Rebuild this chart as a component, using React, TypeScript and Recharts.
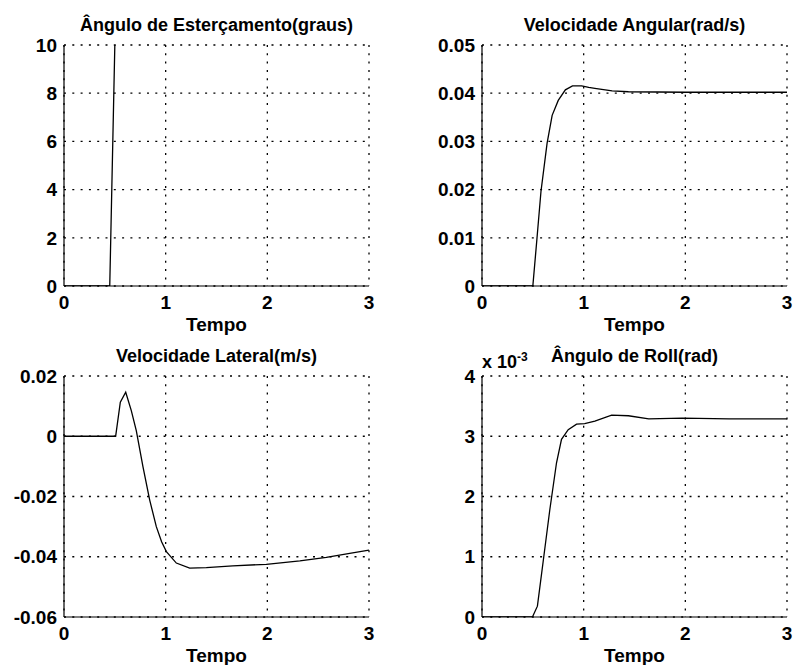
import React from "react";
import { LineChart, Line, XAxis, YAxis, CartesianGrid } from "recharts";

// time axis shared by all four panels
const timeTicks = [0, 1, 2, 3];

// Ângulo de Esterçamento (graus)
const steerTime = [0, 0.45, 0.5];
const steerDeg = [0, 0, 10];
const steerTicks = [0, 2, 4, 6, 8, 10];

// Velocidade Angular (rad/s)
const yawTime = [0, 0.5, 0.54, 0.58, 0.64, 0.69, 0.75, 0.82, 0.89, 0.98, 1.05, 1.11, 1.28, 1.44, 2.0, 3.0];
const yawRate = [0, 0, 0.0097, 0.0196, 0.0296, 0.0354, 0.0385, 0.0407, 0.0415, 0.0415, 0.0412, 0.041, 0.0405, 0.0403, 0.0402, 0.0402];
const yawTicks = [0, 0.01, 0.02, 0.03, 0.04, 0.05];

// Velocidade Lateral (m/s)
const latTime = [0, 0.508, 0.554, 0.607, 0.662, 0.711, 0.777, 0.843, 0.908, 0.96, 1.007, 1.105, 1.236, 1.4, 1.66, 1.99, 2.32, 2.58, 2.81, 3.0];
const latVel = [0, 0, 0.0113, 0.0146, 0.0085, 0.0019, -0.0102, -0.0212, -0.03, -0.035, -0.0383, -0.0421, -0.0438, -0.0436, -0.043, -0.0425, -0.0414, -0.0402, -0.0389, -0.0378];
const latTicks = [-0.06, -0.04, -0.02, 0, 0.02];

// Ângulo de Roll (rad)
const rollTime = [0, 0.496, 0.545, 0.6, 0.667, 0.733, 0.782, 0.848, 0.93, 1.01, 1.11, 1.275, 1.44, 1.64, 1.97, 2.43, 3.0];
const rollAngle = [0, 0, 0.00018, 0.0009, 0.00178, 0.00256, 0.00295, 0.00311, 0.0032, 0.00321, 0.00325, 0.00335, 0.00334, 0.00329, 0.0033, 0.00329, 0.00329];
const rollTicks = [0, 0.001, 0.002, 0.003, 0.004];

const FONT = '"Liberation Sans", Arial, Helvetica, sans-serif';
const PLOT_W = 305;
const PLOT_H = 241;

function zip(t: number[], v: number[]) {
  return t.map((x, i) => ({ t: x, v: v[i] }));
}

const fmtInt = (v: number) => String(v);
const fmt2 = (v: number) => (Math.abs(v) < 1e-9 ? "0" : v.toFixed(2));
const fmtMilli = (v: number) => String(Math.round(v * 1000));

const tickStyle = { fill: "#000", fontSize: 19, fontWeight: "bold", fontFamily: FONT };
const axisLine = { stroke: "#000", strokeWidth: 1.2 };

interface PanelProps {
  left: number;
  top: number;
  title: string;
  data: Array<{ t: number; v: number }>;
  yTicks: number[];
  fmt: (v: number) => string;
  scale?: boolean;
}

function Panel({ left, top, title, data, yTicks, fmt, scale }: PanelProps) {
  const mLeft = 70;
  const mTop = 50;
  const mRight = 20;
  const mBottom = 50;
  const domain = [yTicks[0], yTicks[yTicks.length - 1]];

  return (
    <>
      <div
        style={{
          position: "absolute",
          left: left,
          width: PLOT_W,
          top: top - 30,
          height: 20,
          lineHeight: "20px",
          textAlign: "center",
          fontFamily: FONT,
          fontWeight: "bold",
          fontSize: 18,
          whiteSpace: "nowrap",
        }}
      >
        {title}
      </div>
      {scale && (
        <div
          style={{
            position: "absolute",
            left: left,
            top: top - 29,
            fontFamily: FONT,
            fontWeight: "bold",
            fontSize: 18,
            lineHeight: "20px",
            whiteSpace: "nowrap",
          }}
        >
          x 10<sup style={{ fontSize: 12, verticalAlign: "7px" }}>-3</sup>
        </div>
      )}
      <div style={{ position: "absolute", left: left - mLeft, top: top - mTop }}>
        <LineChart
          width={mLeft + PLOT_W + mRight}
          height={mTop + PLOT_H + mBottom}
          data={data}
          margin={{ top: mTop, right: mRight, left: 0, bottom: 0 }}
        >
          <CartesianGrid stroke="#000" strokeWidth={1.3} strokeDasharray="2 6.3" />
          <XAxis
            dataKey="t"
            type="number"
            domain={[0, 3]}
            ticks={timeTicks}
            allowDataOverflow
            height={mBottom}
            tickSize={0}
            tickMargin={10}
            tickLine={false}
            axisLine={axisLine}
            tick={tickStyle}
            label={{
              value: "Tempo",
              position: "insideBottom",
              offset: 5,
              fill: "#000",
              fontSize: 19,
              fontWeight: "bold",
              fontFamily: FONT,
            }}
          />
          <XAxis
            xAxisId="top"
            orientation="top"
            type="number"
            domain={[0, 3]}
            height={0}
            tick={false}
            tickLine={false}
            axisLine={axisLine}
          />
          <YAxis
            type="number"
            domain={domain}
            ticks={yTicks}
            allowDataOverflow
            width={mLeft}
            tickSize={0}
            tickMargin={7}
            tickLine={false}
            axisLine={axisLine}
            tick={tickStyle}
            tickFormatter={fmt}
          />
          <YAxis
            yAxisId="right"
            orientation="right"
            type="number"
            domain={domain}
            width={0}
            tick={false}
            tickLine={false}
            axisLine={axisLine}
          />
          <Line
            dataKey="v"
            type="linear"
            stroke="#000"
            strokeWidth={1.3}
            dot={false}
            isAnimationActive={false}
          />
        </LineChart>
      </div>
    </>
  );
}

export default function App() {
  return (
    <div
      style={{
        position: "absolute",
        left: 0,
        top: 0,
        width: 795,
        height: 665,
        background: "#fff",
        overflow: "hidden",
      }}
    >
      <Panel left={64} top={45} title="Ângulo de Esterçamento(graus)" data={zip(steerTime, steerDeg)} yTicks={steerTicks} fmt={fmtInt} />
      <Panel left={482} top={45} title="Velocidade Angular(rad/s)" data={zip(yawTime, yawRate)} yTicks={yawTicks} fmt={fmt2} />
      <Panel left={64} top={376} title="Velocidade Lateral(m/s)" data={zip(latTime, latVel)} yTicks={latTicks} fmt={fmt2} />
      <Panel left={482} top={376} title="Ângulo de Roll(rad)" data={zip(rollTime, rollAngle)} yTicks={rollTicks} fmt={fmtMilli} scale />
    </div>
  );
}
